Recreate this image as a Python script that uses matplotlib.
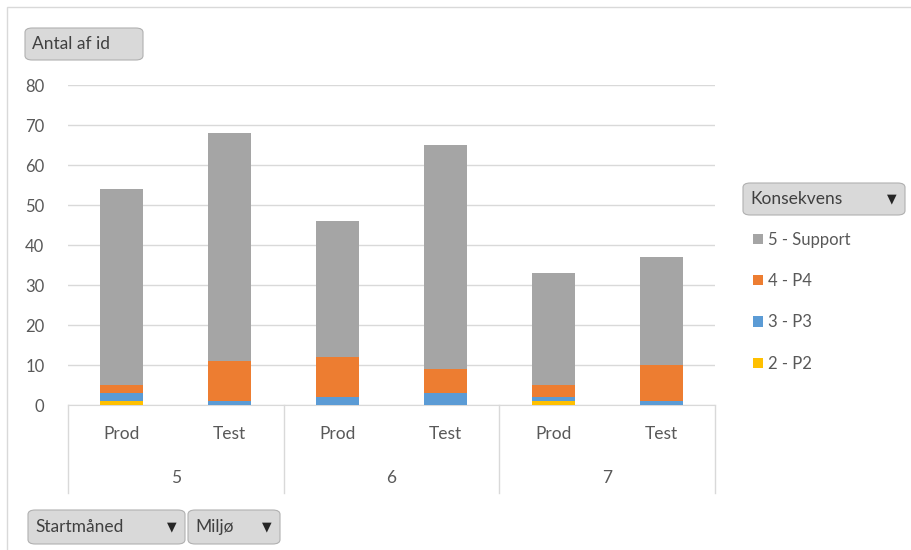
import numpy as np
import matplotlib.pyplot as plt
from matplotlib.patches import FancyBboxPatch, Rectangle

plt.rcParams['font.family'] = ['Lato', 'DejaVu Sans']

# data
months = ["5", "6", "7"]
miljo = ["Prod", "Test", "Prod", "Test", "Prod", "Test"]
p2 = [1, 0, 0, 0, 1, 0]
p3 = [2, 1, 2, 3, 1, 1]
p4 = [2, 10, 10, 6, 3, 9]
support = [49, 57, 34, 56, 28, 27]
yticks = [0, 10, 20, 30, 40, 50, 60, 70, 80]

series = [("2 - P2", p2, "#FFC000"), ("3 - P3", p3, "#5B9BD5"),
          ("4 - P4", p4, "#ED7D31"), ("5 - Support", support, "#A5A5A5")]

txt = "#595959"
W, H = 911, 550
fig = plt.figure(figsize=(W / 100, H / 100), dpi=100)
ax = fig.add_axes([68 / W, 1 - 405 / H, (715 - 68) / W, 320 / H])

x = np.arange(len(miljo))
bottom = np.zeros(len(miljo))
bars = {}
for name, vals, col in series:
    bars[name] = ax.bar(x, vals, 0.4, bottom=bottom, color=col, label=name, zorder=3)
    bottom += np.array(vals)

ax.set_xlim(-0.5, len(miljo) - 0.5)
ax.set_ylim(0, 80)
ax.set_yticks(yticks)
ax.yaxis.grid(True, color="#d9d9d9", linewidth=1, zorder=0)
ax.tick_params(axis="y", length=0, pad=17, labelsize=12, labelcolor=txt)
ax.set_xticks(x)
ax.set_xticklabels(miljo)
ax.tick_params(axis="x", length=0, pad=15, labelsize=12.5, labelcolor=txt)
for s in ["top", "right", "left"]:
    ax.spines[s].set_visible(False)
ax.spines["bottom"].set_color("#d9d9d9")

# month group labels and separators
tr = ax.get_xaxis_transform()
for i, m in enumerate(months):
    ax.text(2 * i + 0.5, -0.228, m, transform=tr, ha="center", va="center",
            fontsize=12.5, color=txt)
for sx in [-0.5, 1.5, 3.5, 5.5]:
    ax.plot([sx, sx], [0, -0.275], transform=tr, color="#d9d9d9", lw=1, clip_on=False)

# legend
handles = [bars[n] for n in ["5 - Support", "4 - P4", "3 - P3", "2 - P2"]]
leg = fig.legend(handles, ["5 - Support", "4 - P4", "3 - P3", "2 - P2"],
                 loc="upper left", bbox_to_anchor=(746 / W, 1 - 225 / H),
                 frameon=False, fontsize=12, handlelength=0.6, handleheight=0.6,
                 handletextpad=0.35, labelspacing=1.52, borderaxespad=0)
for t in leg.get_texts():
    t.set_color(txt)


def button(x0, y0, x1, y1, label, arrow=False):
    box = FancyBboxPatch((x0 / W, 1 - y1 / H), (x1 - x0) / W, (y1 - y0) / H,
                         boxstyle="round,pad=0,rounding_size=0.008",
                         transform=fig.transFigure, facecolor="#d9d9d9",
                         edgecolor="#b0b0b0", lw=0.8)
    fig.patches.append(box)
    fig.text((x0 + 7) / W, 1 - (y0 + y1) / 2 / H, label, ha="left", va="center",
             fontsize=12.5, color="#404040")
    if arrow:
        fig.text((x1 - 8) / W, 1 - (y0 + y1) / 2 / H, "▼", ha="right", va="center",
                 fontsize=9, color="#262626", family="DejaVu Sans")


button(25, 28, 143, 60, "Antal af id")
button(743, 183, 905, 215, "Konsekvens", arrow=True)
button(28, 510, 185, 544, "Startmåned", arrow=True)
button(188, 510, 280, 544, "Miljø", arrow=True)

# outer chart frame
fig.patches.append(Rectangle((7 / W, -0.01), 1.02, 1 - 7 / H + 0.01, transform=fig.transFigure,
                             fill=False, edgecolor="#d9d9d9", lw=1))

fig.savefig("out.png", dpi=100)
